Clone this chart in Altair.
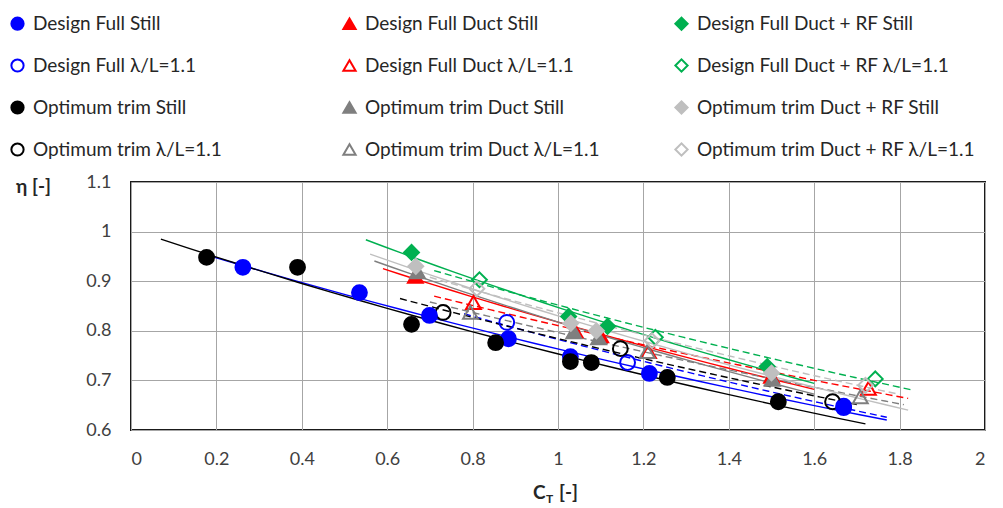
import altair as alt
import pandas as pd

# ---- series definitions (legend fills column by column) ----
series_names = [
    "Design Full Still", "Design Full λ/L=1.1",
    "Optimum trim Still", "Optimum trim λ/L=1.1",
    "Design Full Duct Still", "Design Full Duct λ/L=1.1",
    "Optimum trim Duct Still", "Optimum trim Duct λ/L=1.1",
    "Design Full Duct + RF Still", "Design Full Duct + RF λ/L=1.1",
    "Optimum trim Duct + RF Still", "Optimum trim Duct + RF λ/L=1.1",
]
stroke_colors = [
    "#0000FF", "#0000FF", "#000000", "#000000",
    "#FF0000", "#FF0000", "#7F7F7F", "#7F7F7F",
    "#00B050", "#00B050", "#BFBFBF", "#BFBFBF",
]
fill_colors = [
    "#0000FF", "transparent", "#000000", "transparent",
    "#FF0000", "transparent", "#7F7F7F", "transparent",
    "#00B050", "transparent", "#BFBFBF", "transparent",
]
marker_shapes = [
    "circle", "circle", "circle", "circle",
    "triangle-up", "triangle-up", "triangle-up", "triangle-up",
    "diamond", "diamond", "diamond", "diamond",
]
is_dashed = [False, True, False, True,
             False, True, False, True,
             False, True, False, True]

# ---- values ----
df_still_x = [0.262, 0.535, 0.699, 0.884, 1.029, 1.214, 1.669]
df_still_y = [0.928, 0.877, 0.831, 0.784, 0.748, 0.714, 0.645]
df_wave_x = [0.880, 1.163, 1.669]
df_wave_y = [0.817, 0.736, 0.648]
ot_still_x = [0.177, 0.390, 0.657, 0.854, 1.029, 1.078, 1.256, 1.516]
ot_still_y = [0.948, 0.928, 0.813, 0.776, 0.738, 0.736, 0.706, 0.657]
ot_wave_x = [0.731, 1.146, 1.643]
ot_wave_y = [0.837, 0.764, 0.657]
dfd_still_x = [0.666, 1.040, 1.100, 1.500]
dfd_still_y = [0.910, 0.800, 0.790, 0.708]
dfd_wave_x = [0.802, 1.212, 1.727]
dfd_wave_y = [0.857, 0.758, 0.684]
otd_still_x = [0.671, 1.037, 1.095, 1.502]
otd_still_y = [0.919, 0.798, 0.786, 0.702]
otd_wave_x = [0.795, 1.209, 1.708]
otd_wave_y = [0.837, 0.758, 0.667]
dfdrf_still_x = [0.657, 1.025, 1.116, 1.490]
dfdrf_still_y = [0.958, 0.829, 0.809, 0.728]
dfdrf_wave_x = [0.816, 1.228, 1.743]
dfdrf_wave_y = [0.903, 0.787, 0.703]
otdrf_still_x = [0.667, 1.030, 1.090, 1.500]
otdrf_still_y = [0.930, 0.815, 0.800, 0.715]
otdrf_wave_x = [0.810, 1.220, 1.720]
otdrf_wave_y = [0.885, 0.780, 0.690]

series_x = [df_still_x, df_wave_x, ot_still_x, ot_wave_x,
            dfd_still_x, dfd_wave_x, otd_still_x, otd_wave_x,
            dfdrf_still_x, dfdrf_wave_x, otdrf_still_x, otdrf_wave_x]
series_y = [df_still_y, df_wave_y, ot_still_y, ot_wave_y,
            dfd_still_y, dfd_wave_y, otd_still_y, otd_wave_y,
            dfdrf_still_y, dfdrf_wave_y, otdrf_still_y, otdrf_wave_y]

# trendline ranges (x extent)
trend_extents = [
    [0.19, 1.77], [0.78, 1.77], [0.07, 1.72], [0.63, 1.70],
    [0.59, 1.60], [0.71, 1.82], [0.57, 1.60], [0.70, 1.81],
    [0.55, 1.60], [0.71, 1.83], [0.56, 1.82], [0.70, 1.80],
]

# drawing order of markers (Excel series order: later ones on top)
draw_order = [1, 3, 0, 2, 5, 7, 4, 6, 9, 11, 8, 10]

x_ticks = [0, 0.2, 0.4, 0.6, 0.8, 1, 1.2, 1.4, 1.6, 1.8, 2]
y_ticks = [0.6, 0.7, 0.8, 0.9, 1, 1.1]

rows = []
for i in draw_order:
    for xv, yv in zip(series_x[i], series_y[i]):
        rows.append({"series": series_names[i], "x": xv, "y": yv})
df = pd.DataFrame(rows)

FONT = "Lato"
TXT = "#404040"

x_axis = alt.Axis(values=x_ticks, title=None, labelFont=FONT, labelFontSize=18,
                  labelColor=TXT, labelPadding=20, grid=True, format="~g")
y_axis = alt.Axis(values=y_ticks, title="η [-]", titleAngle=0, titleX=-98, titleY=4,
                  titleAlign="center", titleBaseline="middle", titleFont=FONT,
                  titleFontSize=19, titleFontWeight="bold", titleColor="#262626",
                  labelFont=FONT, labelFontSize=18, labelColor=TXT, labelPadding=20,
                  grid=True, format="~g")
x_enc = alt.X("x:Q", scale=alt.Scale(domain=[0, 2], nice=False, zero=False), axis=x_axis)
y_enc = alt.Y("y:Q", scale=alt.Scale(domain=[0.6, 1.1], nice=False, zero=False), axis=y_axis)

legend = alt.Legend(orient="none", legendX=-123, legendY=-168, columns=3,
                    gridAlign="all", columnPadding=28, rowPadding=21,
                    labelFont=FONT, labelFontSize=19, labelColor="#262626",
                    labelLimit=500, symbolSize=150, symbolStrokeWidth=2,
                    labelOffset=6)

lines = []
for i, name in enumerate(series_names):
    kw = dict(color=stroke_colors[i], strokeWidth=1.4)
    if is_dashed[i]:
        kw["strokeDash"] = [7, 4]
    ln = (
        alt.Chart(df)
        .transform_filter(alt.datum.series == name)
        .transform_regression("x", "y", method="exp", extent=trend_extents[i])
        .mark_line(**kw)
        .encode(x=x_enc, y=y_enc)
    )
    lines.append(ln)

points = alt.Chart(df).mark_point(opacity=1, strokeWidth=2, size=220).encode(
    x=x_enc,
    y=y_enc,
    shape=alt.Shape("series:N", scale=alt.Scale(domain=series_names, range=marker_shapes),
                    legend=legend, title=None),
    stroke=alt.Stroke("series:N", scale=alt.Scale(domain=series_names, range=stroke_colors),
                      legend=legend, title=None),
    fill=alt.Fill("series:N", scale=alt.Scale(domain=series_names, range=fill_colors),
                  legend=legend, title=None),
)

title_df = pd.DataFrame({"t": ["x"]})
t_c = alt.Chart(title_df).mark_text(text="C", font=FONT, fontSize=19, fontWeight="bold",
                                    align="left", baseline="alphabetic", color="#262626"
                                    ).encode(x=alt.value(402), y=alt.value(317))
t_t = alt.Chart(title_df).mark_text(text="T", font=FONT, fontSize=12, fontWeight="bold",
                                    align="left", baseline="alphabetic", color="#262626"
                                    ).encode(x=alt.value(415), y=alt.value(321))
t_r = alt.Chart(title_df).mark_text(text="[-]", font=FONT, fontSize=19, fontWeight="bold",
                                    align="left", baseline="alphabetic", color="#262626"
                                    ).encode(x=alt.value(428), y=alt.value(317))

chart = alt.layer(*lines, points, t_c, t_t, t_r).properties(
    width=854, height=248,
    autosize=alt.AutoSizeParams(type="none"),
    padding={"left": 131, "top": 182, "right": 18, "bottom": 78},
    background="white",
).configure_view(stroke="#1a1a1a", strokeWidth=2).configure_axis(
    gridColor="#A6A6A6", gridWidth=1, domain=False, ticks=False
)

chart.save("out.html", embed_options={"renderer": "svg", "actions": False})
